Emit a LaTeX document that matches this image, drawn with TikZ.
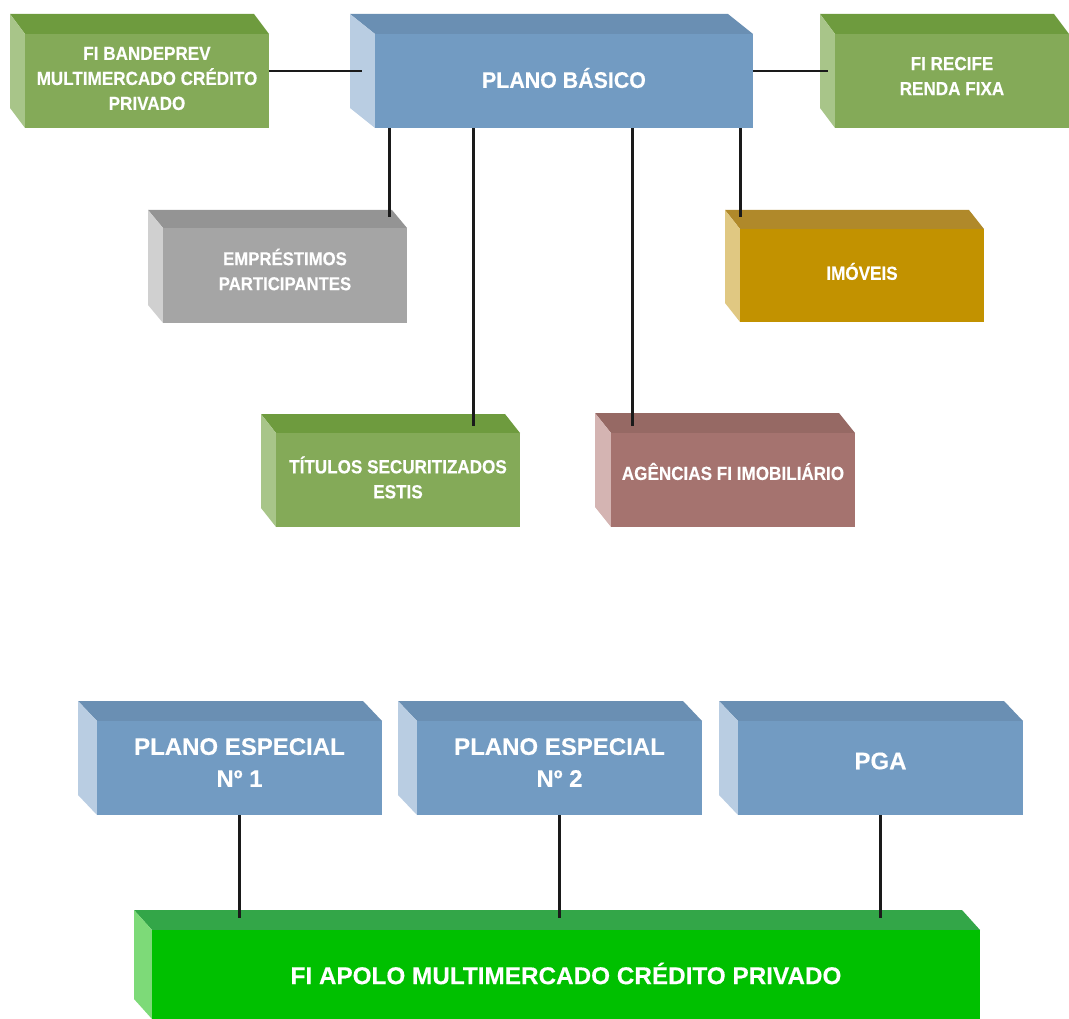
\documentclass[tikz,border=0pt]{standalone}
\usepackage{fontspec}
\setmainfont{Liberation Sans}
\newfontfamily\narrowfont{Liberation Sans}[FakeStretch=0.9,FakeBold=0.3]
\newfontfamily\midfont{Liberation Sans}[FakeStretch=0.95,FakeBold=0.2]
\newfontfamily\bigfont{Liberation Sans}[FakeBold=0.2]
\usetikzlibrary{calc}
\definecolor{gntop}{RGB}{110,155,62}
\definecolor{gnside}{RGB}{168,197,137}
\definecolor{gnfront}{RGB}{132,170,88}
\definecolor{bltop}{RGB}{106,143,179}
\definecolor{blside}{RGB}{185,205,226}
\definecolor{blfront}{RGB}{114,155,194}
\definecolor{gytop}{RGB}{148,148,148}
\definecolor{gyside}{RGB}{208,208,208}
\definecolor{gyfront}{RGB}{165,165,165}
\definecolor{gdtop}{RGB}{176,137,42}
\definecolor{gdside}{RGB}{224,200,130}
\definecolor{gdfront}{RGB}{194,146,0}
\definecolor{mvtop}{RGB}{150,105,100}
\definecolor{mvside}{RGB}{212,180,178}
\definecolor{mvfront}{RGB}{165,115,111}
\definecolor{bgtop}{RGB}{51,166,72}
\definecolor{bgside}{RGB}{125,218,120}
\definecolor{bgfront}{RGB}{0,192,0}
\definecolor{linecol}{RGB}{26,26,26}
\tikzset{
  cubefront/.style={inner sep=0pt},
  cubetext/.style={inner sep=0pt, text=white, align=center},
  smalltext/.style={font=\narrowfont\bfseries\fontsize{19}{25}\selectfont},
  midtext/.style={font=\midfont\bfseries\fontsize{22.5}{28}\selectfont},
  bigtext/.style={font=\bigfont\bfseries\fontsize{24}{32}\selectfont},
  conn/.style={draw=linecol, line width=2.8pt},
}
% [#1 text options]{#2 name}{#3 x0}{#4 y0}{#5 x1}{#6 y1}{#7 depth dx,dy}{#8 colour prefix}{#9 text}
\newcommand\cubebox[9][]{%
  \fill[#8top] ($(#3,#4)-(#7)$) -- ($(#5,#4)-(#7)$) -- (#5,#4) -- (#3,#4) -- cycle;
  \fill[#8side] ($(#3,#4)-(#7)$) -- (#3,#4) -- (#3,#6) -- ($(#3,#6)-(#7)$) -- cycle;
  \node[cubefront, fill=#8front, minimum width={(#5-#3)*1pt}, minimum height={(#6-#4)*1pt}] (#2) at ({(#3+#5)/2},{(#4+#6)/2}) {};
  \node[cubetext, #1] (#2-text) at (#2.center) {#9};
}
\begin{document}
\begin{tikzpicture}[x=1pt,y=-1pt]
\useasboundingbox (0,0) rectangle (1069,1019);
\begin{scope}
\clip (0,0) rectangle (1069,1019);
\cubebox[smalltext,yshift=2.5pt]{band}{25}{34}{269}{128}{15,20}{gn}{FI BANDEPREV\\MULTIMERCADO CRÉDITO\\PRIVADO}
\cubebox[midtext,yshift=3pt]{plano}{375}{34}{753}{128}{25,20}{bl}{PLANO BÁSICO}
\cubebox[smalltext,yshift=5pt]{recife}{835}{34}{1069}{128}{15,20}{gn}{FI RECIFE\\RENDA FIXA}
\cubebox[smalltext,yshift=6pt,font=\narrowfont\bfseries\fontsize{18.6}{25}\selectfont]{emp}{163}{228}{407}{323}{15,18}{gy}{EMPRÉSTIMOS\\PARTICIPANTES}
\cubebox[smalltext,yshift=4pt]{imoveis}{740}{229}{984}{322}{15,19}{gd}{IMÓVEIS}
\cubebox[smalltext,yshift=2.5pt]{titulos}{276}{433}{520}{527}{15,19}{gn}{TÍTULOS SECURITIZADOS\\ESTIS}
\cubebox[smalltext,yshift=8.5pt]{agencias}{611}{433}{855}{527}{16,20}{mv}{AGÊNCIAS FI IMOBILIÁRIO}
\cubebox[bigtext,yshift=5.5pt]{pe1}{97}{721}{382}{815}{19,20}{bl}{PLANO ESPECIAL\\Nº 1}
\cubebox[bigtext,yshift=5.5pt]{pe2}{417}{721}{702}{815}{19,20}{bl}{PLANO ESPECIAL\\Nº 2}
\cubebox[bigtext,yshift=7pt]{pga}{738}{721}{1023}{815}{19,20}{bl}{PGA}
\cubebox[bigtext,yshift=1pt,font=\bigfont\bfseries\fontsize{24.3}{32}\selectfont]{apolo}{152}{930}{980}{1019}{18,20}{bg}{FI APOLO MULTIMERCADO CRÉDITO PRIVADO}
\end{scope}
% connectors
\draw[conn] ([yshift=10pt]band.east) -- ([xshift=-13pt,yshift=10pt]plano.west);
\draw[conn] ([yshift=10pt]plano.east) -- ([xshift=-7pt,yshift=10pt]recife.west);
\coordinate (p1) at ([xshift=15pt]plano.south west);
\coordinate (p2) at ([xshift=99pt]plano.south west);
\coordinate (p3) at ([xshift=258pt]plano.south west);
\coordinate (p4) at ([xshift=-13pt]plano.south east);
\draw[conn] (p1) -- ($(p1 |- emp.north)+(0,-11)$);
\draw[conn] (p2) -- ($(p2 |- titulos.north)+(0,-7)$);
\draw[conn] (p3) -- ($(p3 |- agencias.north)+(0,-7)$);
\draw[conn] (p4) -- ($(p4 |- imoveis.north)+(0,-12)$);
\draw[conn] (pe1.south) -- ($(pe1.south |- apolo.north)+(0,-12)$);
\draw[conn] (pe2.south) -- ($(pe2.south |- apolo.north)+(0,-12)$);
\draw[conn] (pga.south) -- ($(pga.south |- apolo.north)+(0,-12)$);
\end{tikzpicture}
\end{document}
